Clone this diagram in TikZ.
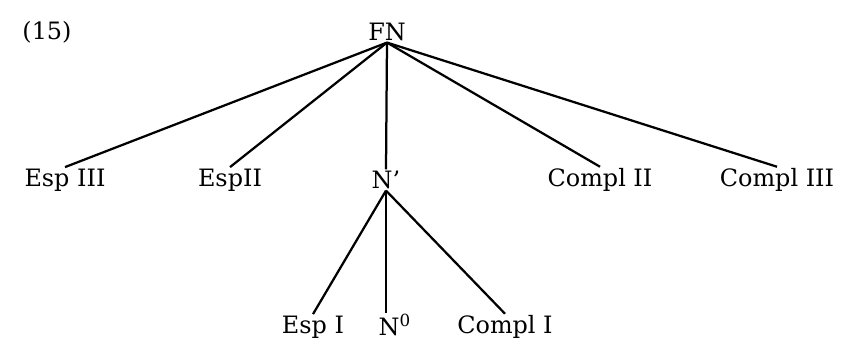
\documentclass[tikz,border=0pt]{standalone}
\usepackage{fontspec}
\setmainfont{DejaVu Serif}
\usetikzlibrary{positioning}

\begin{document}
\begin{tikzpicture}[x=0.025cm,y=-0.025cm]
    \tikzset{cat/.style={inner sep=1pt,font=\fontsize{17}{19}\selectfont},
      branch/.style={line width=1.6pt}}
    \useasboundingbox (0,0) rectangle (843,349);
    \node[cat] (ex) at (47,32) {(15)};
    \node[cat] (fn) at (387,32) {FN};
    % first row
    \node[cat] (esp3) at (65,180) {Esp III};
    \node[cat] (esp2) at (230,180) {EspII};
    \node[cat] (nbar) at (386,180) {N'};
    \node[cat] (comp2) at (600,180) {Compl II};
    \node[cat] (comp3) at (777,180) {Compl III};
    % second row
    \node[cat] (esp1) at (313,327) {Esp I};
    \node[cat,anchor=west] (nzero) at (377,325) {N\textsuperscript{0}};
    \node[cat] (comp1) at (505,327) {Compl I};
    \foreach \c in {esp3,esp2,nbar,comp2,comp3}
      \draw[branch] (fn.south) -- (\c.north);
    \foreach \c in {esp1,comp1}
      \draw[branch] (nbar.south) -- (\c.north);
    \draw[branch] (nbar.south) -- (nzero.north -| nbar.south);
  \end{tikzpicture}
\end{document}
